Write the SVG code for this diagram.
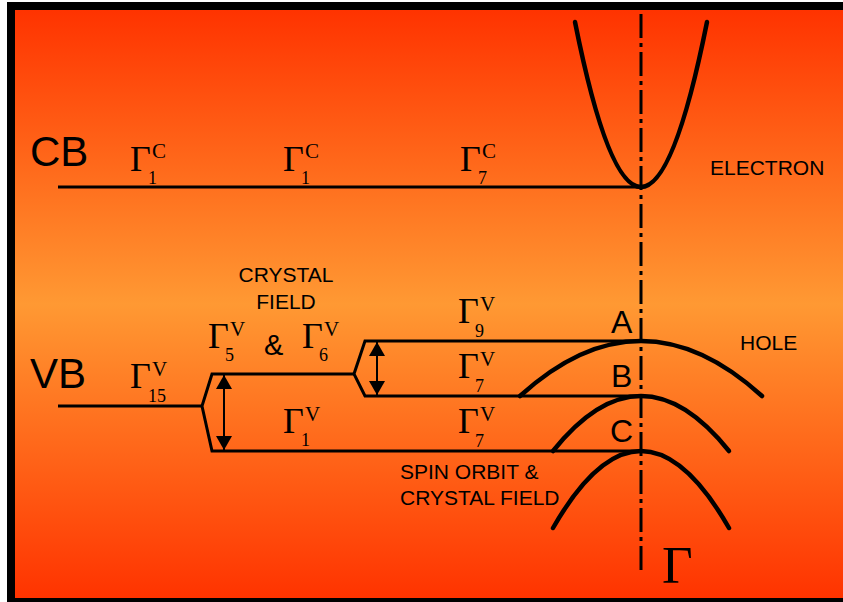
<svg xmlns="http://www.w3.org/2000/svg" width="843" height="602" viewBox="0 0 843 602">
<defs>
<linearGradient id="bg" x1="0" y1="0" x2="0" y2="1">
<stop offset="0" stop-color="#FF3300"/>
<stop offset="0.5" stop-color="#FF9933"/>
<stop offset="1" stop-color="#FF3300"/>
</linearGradient>
<marker id="ah" markerUnits="userSpaceOnUse" markerWidth="14" markerHeight="16" refX="14" refY="8" orient="auto-start-reverse">
<path d="M0,0 L14,8 L0,16 z" fill="#000"/>
</marker>
<style>
.sans{font-family:"Liberation Sans",Arial,sans-serif;fill:#000}
.big{font-size:42px}
.lab{font-size:21px}
.abc{font-size:32px}
.amp{font-size:29px}
.g{font-family:"Liberation Serif","Times New Roman",serif;font-size:36px;fill:#000}
.gbig{font-size:53px}
.sup{font-family:"Liberation Serif","Times New Roman",serif;font-size:21px;fill:#000}
.sub{font-family:"Liberation Serif","Times New Roman",serif;font-size:18px;fill:#000}
.lvl{fill:none;stroke:#000;stroke-width:3;stroke-linejoin:miter}
.band{fill:none;stroke:#000;stroke-width:4.5;stroke-linecap:round}
</style>
</defs>
<rect x="0" y="0" width="843" height="602" fill="#fff"/>
<rect x="7" y="2" width="900" height="700" fill="#000"/>
<rect x="15" y="10" width="900" height="588" fill="url(#bg)"/>

<g id="connectors">
<path class="lvl" d="M58,187 L641,187"/>
<path class="lvl" d="M58,406 L202,406"/>
<path class="lvl" d="M641,451 L212,451 L202,406 L212,374 L354,374"/>
<path class="lvl" d="M641,341 L365,341 L354,374 L365,396 L641,396"/>
<line x1="224" y1="375" x2="224" y2="450" stroke="#000" stroke-width="2" marker-start="url(#ah)" marker-end="url(#ah)"/>
<line x1="377" y1="342" x2="377" y2="395" stroke="#000" stroke-width="2" marker-start="url(#ah)" marker-end="url(#ah)"/>
<path class="band" d="M575,22 Q641,352 707,22"/>
<path class="band" d="M520,396 Q641,286 762,396"/>
<path class="band" d="M553,451 Q641,341 729,451"/>
<path class="band" d="M553,528 Q641,374 729,528"/>
<line x1="641" y1="14" x2="641" y2="572" stroke="#000" stroke-width="3" stroke-dasharray="24 5 4 5"/>
</g>

<g id="cb-label"><text class="sans big" x="30" y="166">CB</text></g>
<g id="vb-label"><text class="sans big" x="30" y="388">VB</text></g>

<g id="g1c-a"><text class="g" x="130" y="171">Γ</text><text class="sup" x="152" y="158">C</text><text class="sub" x="148" y="184">1</text></g>
<g id="g1c-b"><text class="g" x="283" y="171">Γ</text><text class="sup" x="305" y="158">C</text><text class="sub" x="301" y="184">1</text></g>
<g id="g7c"><text class="g" x="460" y="171">Γ</text><text class="sup" x="482" y="158">C</text><text class="sub" x="478" y="184">7</text></g>

<g id="g15v"><text class="g" x="130" y="388">Γ</text><text class="sup" x="152" y="376">V</text><text class="sub" x="148" y="402">15</text></g>
<g id="g5v"><text class="g" x="208" y="348">Γ</text><text class="sup" x="230" y="336">V</text><text class="sub" x="225" y="361">5</text></g>
<g id="amp"><text class="sans amp" x="264" y="355">&amp;</text></g>
<g id="g6v"><text class="g" x="302" y="348">Γ</text><text class="sup" x="324" y="336">V</text><text class="sub" x="319" y="361">6</text></g>
<g id="g1v"><text class="g" x="283" y="433">Γ</text><text class="sup" x="305" y="421">V</text><text class="sub" x="301" y="446">1</text></g>
<g id="g9v"><text class="g" x="458" y="323">Γ</text><text class="sup" x="480" y="311">V</text><text class="sub" x="475" y="337">9</text></g>
<g id="g7v-b"><text class="g" x="458" y="378">Γ</text><text class="sup" x="480" y="366">V</text><text class="sub" x="475" y="392">7</text></g>
<g id="g7v-c"><text class="g" x="458" y="433">Γ</text><text class="sup" x="480" y="421">V</text><text class="sub" x="475" y="447">7</text></g>

<g id="crystal-field"><text class="sans lab" text-anchor="middle" x="286" y="282">CRYSTAL</text><text class="sans lab" text-anchor="middle" x="286" y="309">FIELD</text></g>
<g id="spin-orbit"><text class="sans lab" x="400" y="479">SPIN ORBIT &amp;</text><text class="sans lab" x="400" y="505">CRYSTAL FIELD</text></g>
<g id="electron"><text class="sans lab" x="710" y="175">ELECTRON</text></g>
<g id="hole"><text class="sans lab" x="740" y="350">HOLE</text></g>
<g id="label-a"><text class="sans abc" x="611" y="333">A</text></g>
<g id="label-b"><text class="sans abc" x="611" y="387">B</text></g>
<g id="label-c"><text class="sans abc" x="610" y="442">C</text></g>
<g id="gamma"><text class="g gbig" x="662" y="583">Γ</text></g>
</svg>
